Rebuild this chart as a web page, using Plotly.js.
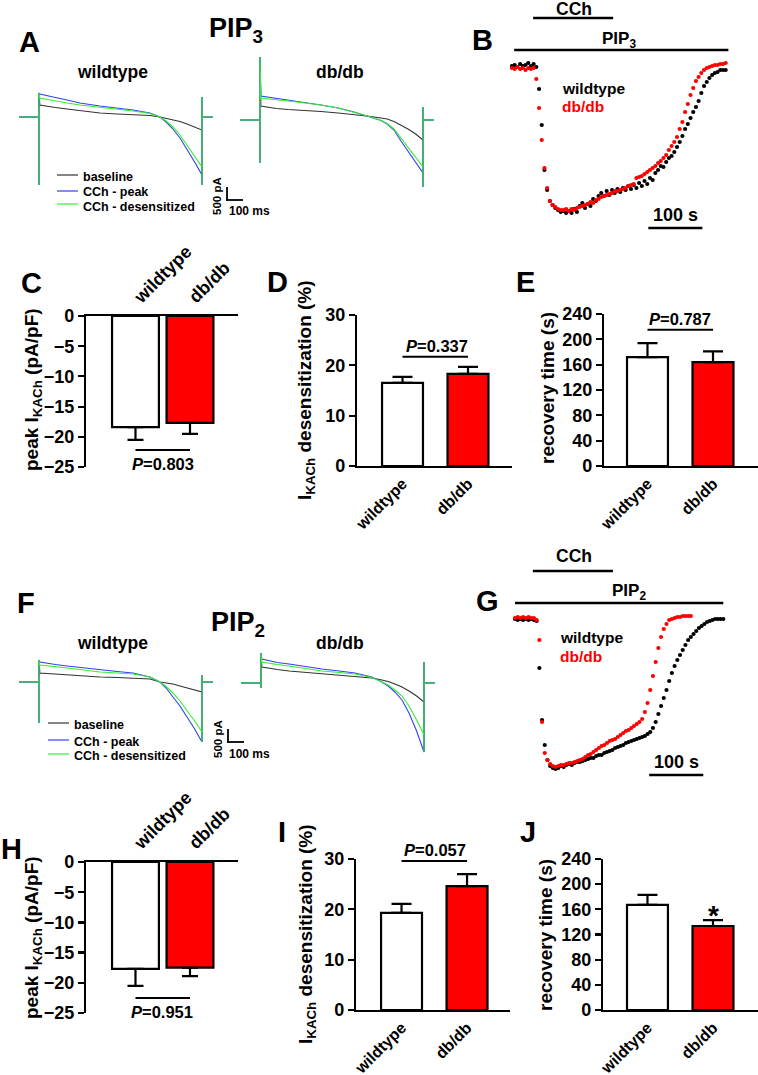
<!DOCTYPE html>
<html><head><meta charset="utf-8">
<script src="https://cdn.plot.ly/plotly-3.0.1.min.js"></script>
<style>html,body{margin:0;padding:0;background:#fff}</style>
</head><body><div id="chart" style="width:758px;height:1075px"></div>
<script>
// ---------------- DATA ----------------
const groups = ['wildtype', 'db/db'];
const traceNames = ['baseline', 'CCh - peak', 'CCh - desensitized'];

// bar charts (mean, SEM)
const pip3PeakMean = [-18.4, -17.7];
const pip3PeakSem = [2.1, 1.8];
const pip3DesensMean = [16.5, 18.3];
const pip3DesensSem = [1.2, 1.4];
const pip3RecoveryMean = [172, 164];
const pip3RecoverySem = [22, 17];
const pip2PeakMean = [-17.7, -17.5];
const pip2PeakSem = [2.8, 1.4];
const pip2DesensMean = [19.3, 24.6];
const pip2DesensSem = [1.8, 2.4];
const pip2RecoveryMean = [167, 133.5];
const pip2RecoverySem = [16, 9.5];
const pLabels = ['P=0.803', 'P=0.337', 'P=0.787', 'P=0.951', 'P=0.057'];

// ramp current traces (ms, pA)
const rampTime = [-123,0,0,0,5,50,100,172,250,374,480,577,681,742,780,822,865,908,955,1000,1000,1000,1000,1067];
const pip3WtBaseline = [0,0,-2720,960,480,420,380,320,260,160,120,100,60,0,-60,-120,-180,-280,-400,-520,-2720,800,0,0];
const pip3WtPeak     = [0,0,-2720,960,920,840,780,680,560,440,360,280,160,0,-200,-480,-840,-1280,-1800,-2320,-2720,800,0,0];
const pip3WtDesens   = [0,0,-2720,960,760,700,640,560,480,400,320,240,140,0,-160,-400,-720,-1120,-1560,-2000,-2720,800,0,0];
const pip3DbBaseline = [0,0,-1720,2520,560,500,460,420,400,340,280,220,140,80,40,-60,-200,-360,-560,-800,-2680,520,0,0];
const pip3DbPeak     = [0,0,-1720,2520,960,920,860,800,720,600,480,320,120,-20,-160,-400,-840,-1240,-1680,-2120,-2680,520,0,0];
const pip3DbDesens   = [0,0,-1720,2520,880,840,800,760,700,600,480,320,120,-20,-140,-360,-720,-1080,-1480,-1880,-2680,520,0,0];
const pip2WtBaseline = [0,0,-1640,880,360,340,320,280,240,200,180,160,120,0,-40,-80,-160,-240,-320,-400,-2400,280,0,0];
const pip2WtPeak     = [0,0,-1640,880,800,740,700,640,580,480,420,360,200,0,-240,-600,-960,-1400,-1880,-2400,-2400,280,0,0];
const pip2WtDesens   = [0,0,-1640,880,680,640,600,560,500,400,360,320,200,0,-180,-440,-760,-1120,-1560,-2000,-2400,280,0,0];
const pip2DbBaseline = [0,0,-200,1200,640,580,540,480,440,360,320,280,200,120,60,-40,-160,-320,-520,-760,-2760,840,0,0];
const pip2DbPeak     = [0,0,-200,1200,960,880,820,760,680,560,480,400,240,40,-120,-360,-680,-1200,-1920,-2760,-2760,840,0,0];
const pip2DbDesens   = [0,0,-200,1200,840,780,740,680,600,480,420,360,220,40,-80,-280,-520,-920,-1480,-2080,-2760,840,0,0];

// time courses (s, pA)
const timeB = [0,5,10,15,20,25,30,35,40,45,50,55,60,65,70,75,80,85,90,95,100,105,110,115,120,125,130,135,140,145,150,155,160,165,170,175,180,185,190,195,200,205,210,215,220,225,230,235,240,245,250,255,260,265,270,275,280,285,290,295,300,305,310,315,320,325,330,335,340,345,350,355,360,365,370,375,380,385,390,395];
const pip3CourseWt = [0,10,-10,20,0,10,30,0,20,-10,
 -230,-590,-1040,-1240,-1350,-1390,-1420,-1440,-1460,-1450,
 -1470,-1450,-1470,-1430,-1460,-1400,-1370,-1420,-1380,-1400,
 -1330,-1350,-1300,-1270,-1300,-1250,-1290,-1240,-1270,-1230,
 -1260,-1220,-1240,-1200,-1230,-1190,-1220,-1170,-1200,-1150,
 -1180,-1120,-1140,-1070,-1040,-1000,-1010,-960,-920,-900,
 -860,-810,-760,-700,-630,-580,-520,-460,-410,-350,
 -270,-200,-160,-120,-90,-70,-60,-40,-40,-40];
const pip3CourseDb = [-20,-30,-10,-30,-20,-40,-20,-30,-20,-130,
 -420,-740,-1020,-1220,-1350,-1390,-1410,-1430,-1440,-1440,
 -1430,-1450,-1430,-1440,-1420,-1410,-1400,-1390,-1380,-1360,
 -1370,-1340,-1330,-1310,-1300,-1290,-1280,-1270,-1250,-1250,
 -1240,-1230,-1220,-1200,-1190,-1180,-1120,-1110,-1100,-1080,
 -1060,-1040,-1020,-1000,-970,-950,-920,-890,-840,-800,
 -760,-710,-630,-560,-460,-380,-290,-220,-150,-110,
 -70,-40,-20,-10,0,10,10,20,20,30];
const timeGWt = [0,5,10,15,20,25,30,35,40,45,50,55,60,65,70,75,80,85,90,95,100,105,110,115,120,125,130,135,140,145,150,155,160,165,170,175,180,185,190,195,200,205,210,215,220,225,230,235,240,245,250,255,260,265,270,275,280,285,290,295,300,305,310,315,320,325,330,335,340,345,350,355,360,365,370,375,380,385];
const pip2CourseWt = [0,-10,0,-10,0,-10,0,-10,-20,-490,
 -1010,-1260,-1410,-1470,-1490,-1500,-1490,-1470,-1480,-1460,
 -1450,-1460,-1440,-1430,-1430,-1420,-1410,-1400,-1390,-1390,
 -1370,-1360,-1360,-1340,-1330,-1320,-1310,-1290,-1280,-1270,
 -1260,-1240,-1230,-1220,-1210,-1200,-1190,-1180,-1170,-1150,
 -1130,-1090,-1030,-950,-870,-790,-710,-620,-540,-470,
 -410,-360,-310,-260,-210,-180,-150,-120,-90,-70,
 -50,-30,-20,-10,0,0,0,0];
const timeGDb = [0,5,10,15,20,25,30,35,40,45,50,55,60,65,70,75,80,85,90,95,100,105,110,115,120,125,130,135,140,145,150,155,160,165,170,175,180,185,190,195,200,205,210,215,220,225,230,235,240,245,250,255,260,265,270,275,280,285,290,295,300,305,310,315,320,325];
const pip2CourseDb = [10,20,10,20,10,20,10,10,-10,-210,
 -1030,-1340,-1410,-1450,-1470,-1480,-1470,-1460,-1460,-1450,
 -1440,-1440,-1430,-1420,-1410,-1400,-1380,-1360,-1350,-1330,
 -1310,-1290,-1270,-1260,-1240,-1220,-1210,-1200,-1180,-1160,
 -1140,-1120,-1110,-1090,-1070,-1050,-1030,-1000,-930,-840,
 -710,-570,-430,-290,-180,-100,-50,-10,0,10,
 20,20,30,30,30,30];
// drug application windows (s) and scale bars
const cchWindowB = [39, 187];
const pipWindowB = [4, 400];
const cchWindowG = [33, 181];
const pipWindowG = [0, 385];
const scaleBarS = 100;

// ---------------- STYLE / LAYOUT ----------------
const W = 758, H = 1075;
const FONT = 'Liberation Sans, Arial, Helvetica, sans-serif';
const C_BASE = '#333333', C_PEAK = '#3340f0', C_DES = '#33ee33', C_RED = '#ff0000';
const fnt = (s, c) => ({family: FONT, size: s, color: c || 'black', weight: 'bold'});
const dX = (a, b) => [a / W, b / W];
const dY = (top, bot) => [1 - bot / H, 1 - top / H];
const PX = v => v / W, PY = v => 1 - v / H;

const traces = [];
function ramp(t, y, color, xa, ya) {
  traces.push({x: t, y: y, xaxis: xa, yaxis: ya, mode: 'lines', type: 'scatter',
    line: {color: color, width: 1.1}, hoverinfo: 'skip', showlegend: false});
}
ramp(rampTime, pip3WtBaseline, C_BASE, 'x', 'y');
ramp(rampTime, pip3WtPeak, C_PEAK, 'x', 'y');
ramp(rampTime, pip3WtDesens, C_DES, 'x', 'y');
ramp(rampTime, pip3DbBaseline, C_BASE, 'x2', 'y2');
ramp(rampTime, pip3DbPeak, C_PEAK, 'x2', 'y2');
ramp(rampTime, pip3DbDesens, C_DES, 'x2', 'y2');
ramp(rampTime, pip2WtBaseline, C_BASE, 'x7', 'y7');
ramp(rampTime, pip2WtPeak, C_PEAK, 'x7', 'y7');
ramp(rampTime, pip2WtDesens, C_DES, 'x7', 'y7');
ramp(rampTime, pip2DbBaseline, C_BASE, 'x8', 'y8');
ramp(rampTime, pip2DbPeak, C_PEAK, 'x8', 'y8');
ramp(rampTime, pip2DbDesens, C_DES, 'x8', 'y8');

function dots(t, y, color, xa, ya) {
  traces.push({x: t, y: y, xaxis: xa, yaxis: ya, mode: 'markers', type: 'scatter',
    marker: {color: color, size: 4.2}, hoverinfo: 'skip', showlegend: false});
}
dots(timeB, pip3CourseWt, 'black', 'x3', 'y3');
dots(timeB, pip3CourseDb, C_RED, 'x3', 'y3');
dots(timeGWt, pip2CourseWt, 'black', 'x9', 'y9');
dots(timeGDb, pip2CourseDb, C_RED, 'x9', 'y9');

function bars(mean, sem, xa, ya, width, capw) {
  const neg = mean[0] < 0;
  traces.push({type: 'bar', x: groups, y: mean, xaxis: xa, yaxis: ya, width: width,
    marker: {color: ['white', C_RED], line: {color: 'black', width: 2.2}},
    error_y: {type: 'data', symmetric: false,
      array: neg ? sem.map(() => 0) : sem, arrayminus: neg ? sem : sem.map(() => 0),
      color: 'black', thickness: 2.2, width: capw},
    hoverinfo: 'skip', showlegend: false});
}
bars(pip3PeakMean, pip3PeakSem, 'x4', 'y4', 0.86, 8);
bars(pip3DesensMean, pip3DesensSem, 'x5', 'y5', 0.625, 10);
bars(pip3RecoveryMean, pip3RecoverySem, 'x6', 'y6', 0.625, 10);
bars(pip2PeakMean, pip2PeakSem, 'x10', 'y10', 0.86, 8);
bars(pip2DesensMean, pip2DesensSem, 'x11', 'y11', 0.625, 10);
bars(pip2RecoveryMean, pip2RecoverySem, 'x12', 'y12', 0.625, 10);

const hid = (domain, range, anchor) => ({domain, range, anchor, visible: false, fixedrange: true});
const catAx = (domain, range, anchor, side) => ({domain, range, anchor, side: side || 'bottom', type: 'category',
  showline: true, linewidth: 2.2, linecolor: 'black', ticks: '', tickangle: -45,
  tickfont: fnt(side === 'top' ? 18 : 16),
  showgrid: false, zeroline: false, fixedrange: true});
const valAx = (domain, range, anchor, tickvals) => ({domain, range, anchor, tickvals,
  showline: true, linewidth: 2.2, linecolor: 'black', ticks: 'outside', ticklen: 6, tickwidth: 2.2,
  tickcolor: 'black', tickfont: fnt(18), showgrid: false, zeroline: false, fixedrange: true});

const layout = {
  width: W, height: H, margin: {l: 0, r: 0, t: 0, b: 0}, showlegend: false,
  paper_bgcolor: 'white', plot_bgcolor: 'rgba(0,0,0,0)', font: {family: FONT, color: 'black'},
  bargap: 0,
  // A traces
  xaxis: hid(dX(19, 215), [-123, 1080], 'y'),
  yaxis: hid(dY(45, 205), [-3520, 2880], 'x'),
  xaxis2: hid(dX(240, 437), [-123, 1086], 'y2'),
  yaxis2: hid(dY(45, 205), [-3400, 3000], 'x2'),
  // B
  xaxis3: hid(dX(510, 730), [-3.7, 403], 'y3'),
  yaxis3: hid(dY(55, 225), [-1590, 110], 'x3'),
  // C D E
  xaxis4: catAx(dX(86, 238), [-0.908, 1.881], 'y4', 'top'),
  yaxis4: valAx(dY(316, 467), [-25, 0], 'x4', [0, -5, -10, -15, -20, -25]),
  xaxis5: catAx(dX(357, 512), [-0.695, 1.672], 'y5'),
  yaxis5: valAx(dY(315, 466), [0, 30], 'x5', [0, 10, 20, 30]),
  xaxis6: catAx(dX(604, 758), [-0.664, 1.687], 'y6'),
  yaxis6: valAx(dY(314, 466), [0, 240], 'x6', [0, 40, 80, 120, 160, 200, 240]),
  // F traces
  xaxis7: hid(dX(19, 215), [-123, 1080], 'y7'),
  yaxis7: hid(dY(610, 770), [-3520, 2880], 'x7'),
  xaxis8: hid(dX(241, 437), [-123, 1080], 'y8'),
  yaxis8: hid(dY(610, 770), [-3480, 2920], 'x8'),
  // G
  xaxis9: hid(dX(513, 726), [-3.7, 390], 'y9'),
  yaxis9: hid(dY(610, 780), [-1610, 90], 'x9'),
  // H I J
  xaxis10: catAx(dX(86, 238), [-0.908, 1.881], 'y10', 'top'),
  yaxis10: valAx(dY(862, 1013), [-25, 0], 'x10', [0, -5, -10, -15, -20, -25]),
  xaxis11: catAx(dX(356, 510), [-0.695, 1.656], 'y11'),
  yaxis11: valAx(dY(859, 1010), [0, 30], 'x11', [0, 10, 20, 30]),
  xaxis12: catAx(dX(603, 758), [-0.679, 1.687], 'y12'),
  yaxis12: valAx(dY(859, 1010), [0, 240], 'x12', [0, 40, 80, 120, 160, 200, 240]),
  shapes: [], annotations: []
};

const S = layout.shapes, A = layout.annotations;
function pline(x0, y0, x1, y1, color, w) {
  S.push({type: 'line', xref: 'paper', yref: 'paper', x0: PX(x0), y0: PY(y0), x1: PX(x1), y1: PY(y1),
    line: {color: color || 'black', width: w || 2}});
}
function tline(xa, t0, t1, y, w) {
  S.push({type: 'line', xref: xa, yref: 'paper', x0: t0, x1: t1, y0: PY(y), y1: PY(y),
    line: {color: 'black', width: w || 2}});
}
function dline(xa, ya, yv) {
  S.push({type: 'line', xref: xa, yref: ya, x0: groups[0], x1: groups[1], y0: yv, y1: yv,
    line: {color: 'black', width: 2}});
}
function txt(text, x, y, size, o) {
  A.push(Object.assign({text, x: PX(x), y: PY(y), xref: 'paper', yref: 'paper', showarrow: false,
    font: fnt(size), xanchor: 'center', yanchor: 'middle'}, o || {}));
}

// panel letters
txt('A', 29, 42, 29); txt('B', 482, 40, 29); txt('C', 31, 283, 29); txt('D', 277, 282, 29);
txt('E', 525, 282, 29); txt('F', 26, 603, 29); txt('G', 487, 601, 29); txt('H', 11, 849, 29);
txt('I', 282, 832, 29); txt('J', 528, 832, 29);

// A & F headers
txt('PIP<sub>3</sub>', 207, 30, 27, {xanchor: 'left'});
txt('PIP<sub>2</sub>', 209, 624, 27, {xanchor: 'left'});
txt(groups[0], 112, 72, 17.5); txt(groups[1], 340, 72, 17.5);
txt(groups[0], 112, 643, 17.5); txt(groups[1], 340, 643, 17.5);

// A & F legends
const legColors = [C_BASE, C_PEAK, C_DES];
[[175, 177], [191, 192], [204, 207]].forEach((r, i) => {
  pline(57, r[0], 78, r[0], legColors[i], 1.2);
  txt(traceNames[i], 81, r[1], 12.5, {xanchor: 'left'});
});
[[723, 725], [740, 742], [754, 756]].forEach((r, i) => {
  pline(48, r[0], 69, r[0], legColors[i], 1.2);
  txt(traceNames[i], 72, r[1], 12.5, {xanchor: 'left'});
});
// scale bars A & F
pline(227, 187, 227, 200.5, 'black', 1.8); pline(226, 200, 243, 200, 'black', 1.8);
txt('500 pA', 217, 196, 11.5, {textangle: -90});
txt('100 ms', 227, 211, 12, {xanchor: 'left'});
pline(228, 729, 228, 742.5, 'black', 1.8); pline(227, 742, 244, 742, 'black', 1.8);
txt('500 pA', 218, 739, 11.5, {textangle: -90});
txt('100 ms', 227, 754, 12, {xanchor: 'left'});

// B
tline('x3', cchWindowB[0], cchWindowB[1], 18, 2.5);
tline('x3', pipWindowB[0], pipWindowB[1], 50, 2.5);
tline('x3', 252, 252 + scaleBarS, 228, 2.5);
txt('CCh', 574, 9, 17.5); txt('PIP<sub>3</sub>', 600, 40, 17, {xanchor: 'left'});
txt('100 s', 675, 215, 18);
txt(groups[0], 560, 88, 15.5, {xanchor: 'left'});
txt(groups[1], 560, 106, 15.5, {xanchor: 'left', font: fnt(15.5, C_RED)});
// G
tline('x9', cchWindowG[0], cchWindowG[1], 571, 2.5);
tline('x9', pipWindowG[0], pipWindowG[1], 603, 2.5);
tline('x9', 248, 248 + scaleBarS, 775, 2.5);
txt('CCh', 574, 556, 17.5); txt('PIP<sub>2</sub>', 610, 592, 17, {xanchor: 'left'});
txt('100 s', 676, 762, 18);
txt(groups[0], 558, 637, 15.5, {xanchor: 'left'});
txt(groups[1], 558, 656, 15.5, {xanchor: 'left', font: fnt(15.5, C_RED)});

// y titles
txt('peak I<sub>KACh</sub> (pA/pF)', 33, 390, 19, {textangle: -90});
txt('I<sub>KACh</sub> desensitization (%)', 306, 390, 19, {textangle: -90});
txt('recovery time (s)', 547, 388, 19, {textangle: -90});
txt('peak I<sub>KACh</sub> (pA/pF)', 33, 938, 19, {textangle: -90});
txt('I<sub>KACh</sub> desensitization (%)', 307, 934, 19, {textangle: -90});
txt('recovery time (s)', 546, 935, 19, {textangle: -90});

// significance
const pt = s => s.replace('P', '<i>P</i>');
dline('x4', 'y4', -22.2); txt(pt(pLabels[0]), 163, 464, 16.5);
dline('x5', 'y5', 21.7); txt(pt(pLabels[1]), 437, 346, 16.5);
dline('x6', 'y6', 215); txt(pt(pLabels[2]), 680, 319, 16.5);
dline('x10', 'y10', -22.5); txt(pt(pLabels[3]), 162, 1012, 16.5);
dline('x11', 'y11', 29.6); txt(pt(pLabels[4]), 435, 850, 16.5);
txt('*', 713, 915, 28);

Plotly.newPlot('chart', traces, layout, {staticPlot: true});
</script></body></html>
